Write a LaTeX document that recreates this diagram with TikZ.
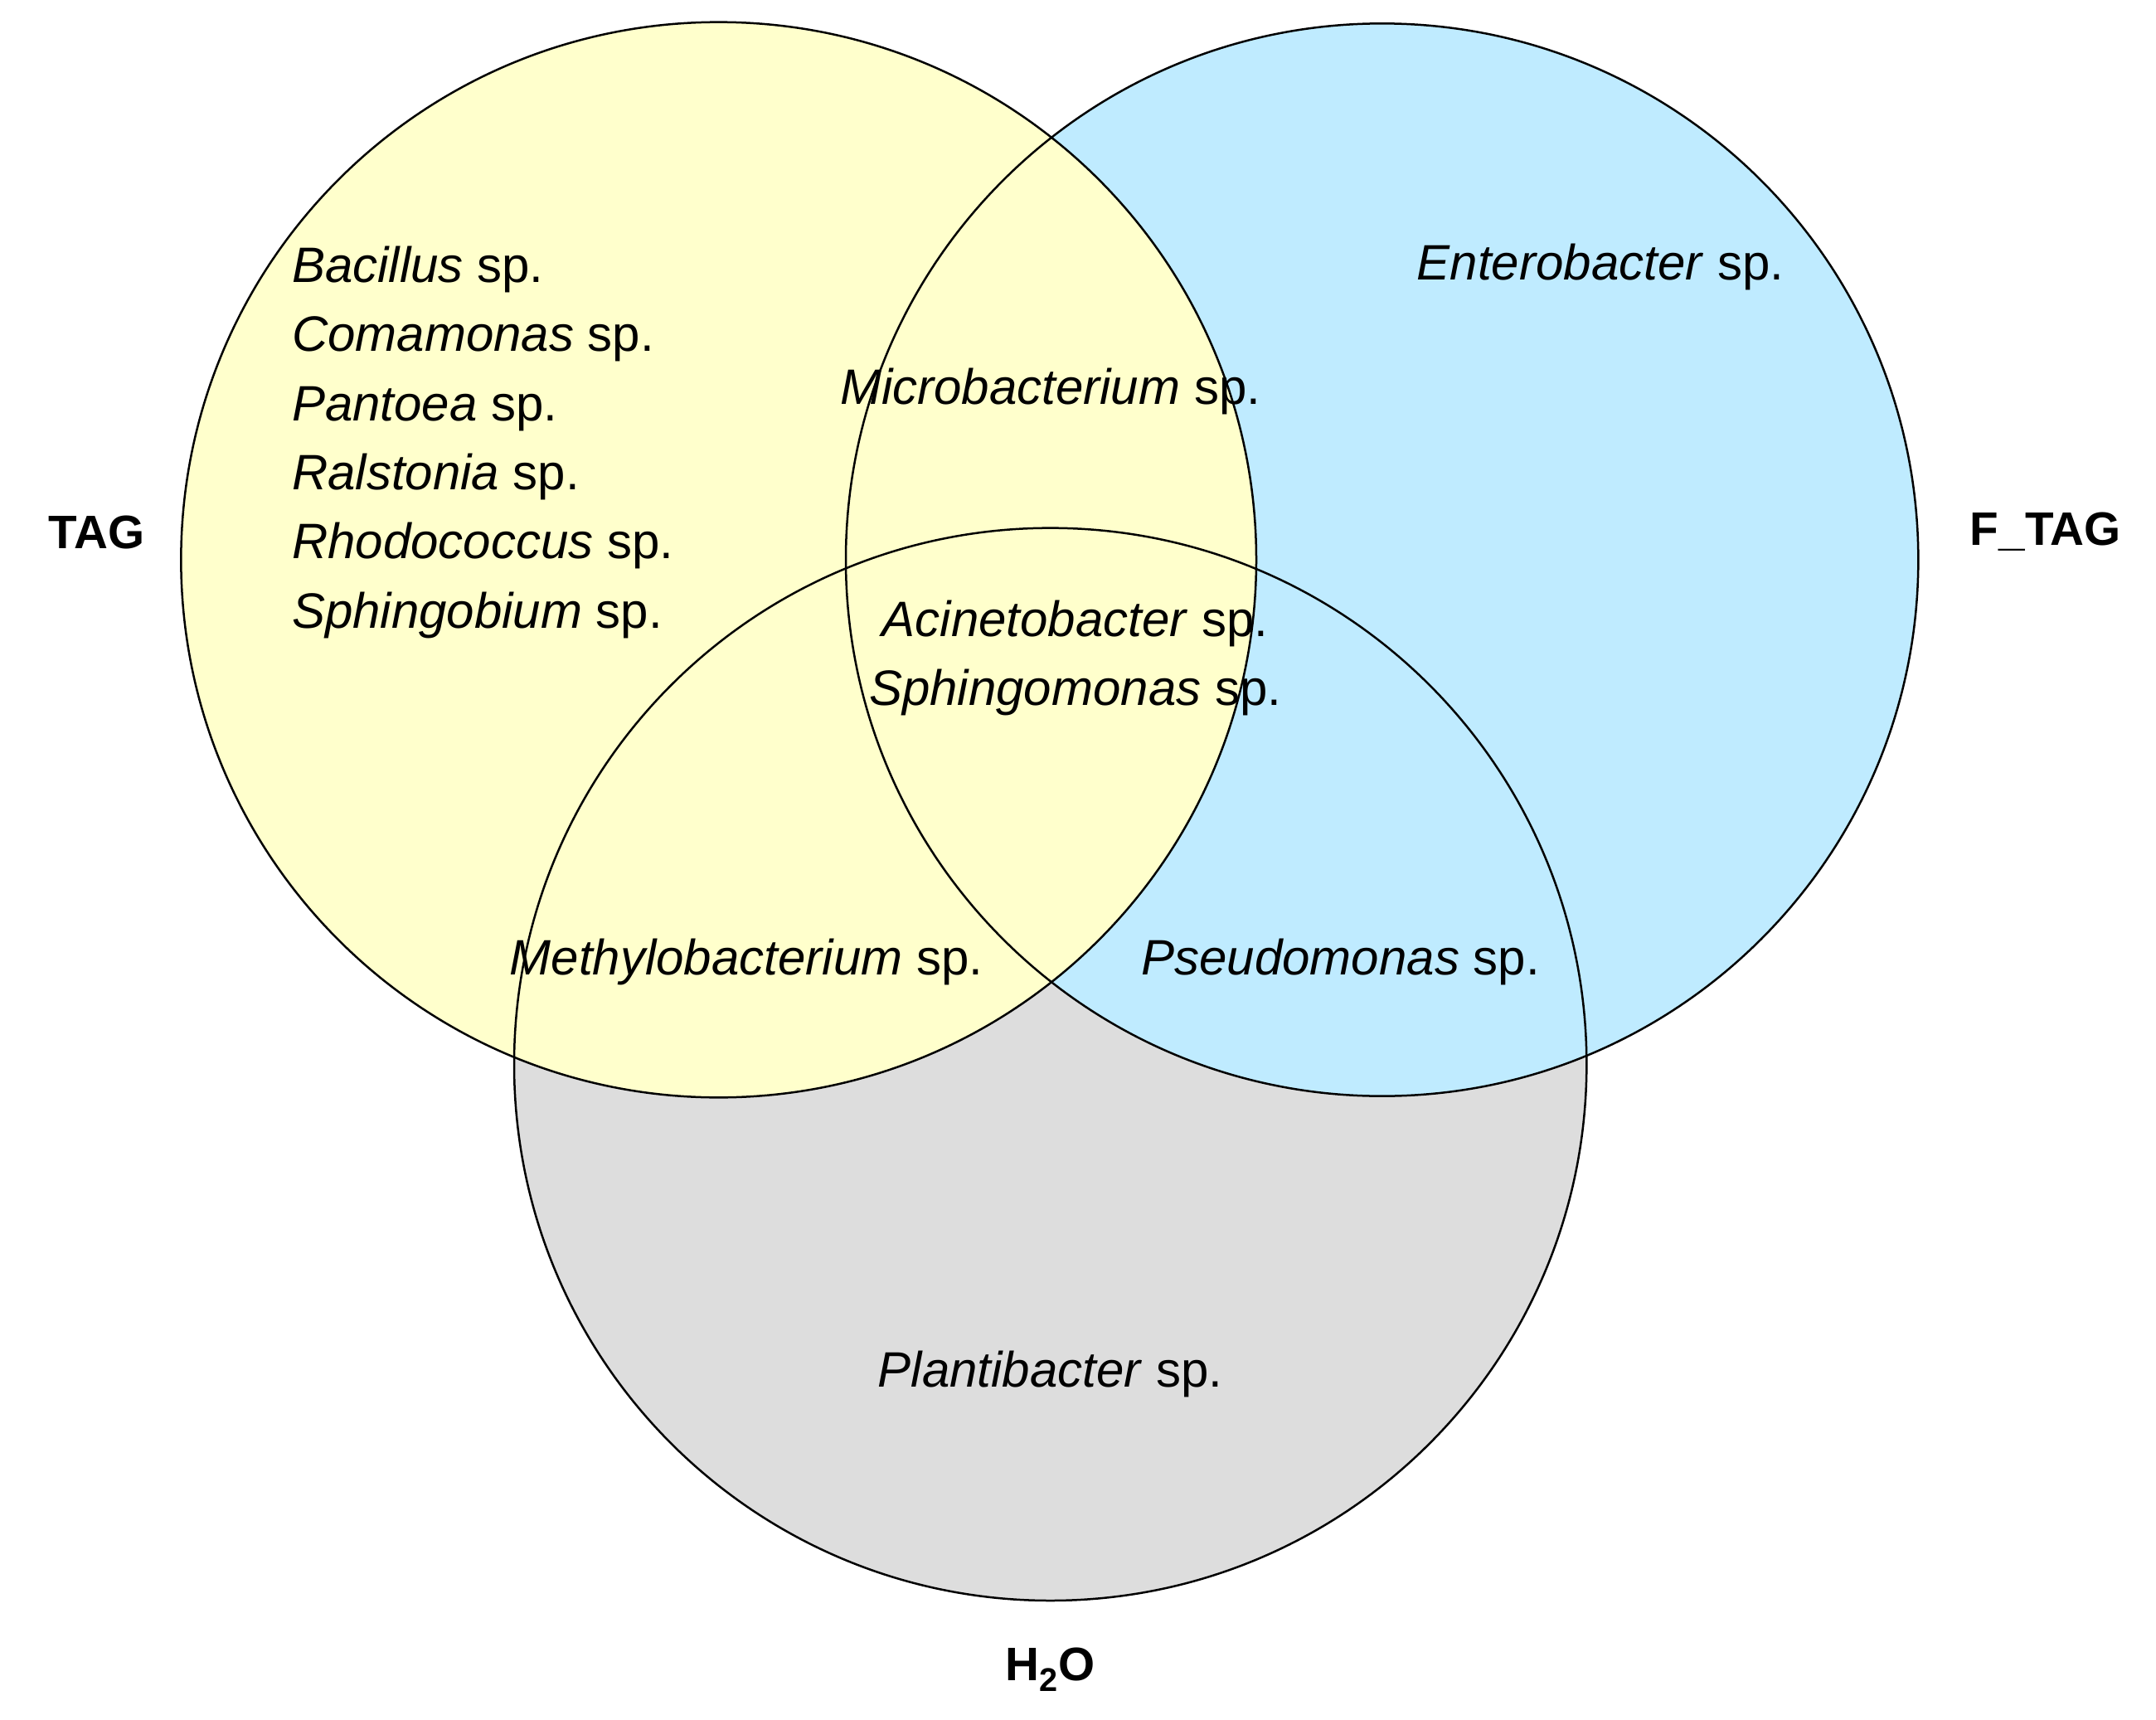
\documentclass[tikz,border=0pt]{standalone}
\usepackage{fontspec}
\setmainfont{Liberation Sans}
\begin{document}
\begin{tikzpicture}[x=1pt,y=-1pt,
  lab/.style={font=\fontsize{36}{50}\selectfont,inner sep=0pt},
  title/.style={font=\fontsize{34}{40}\selectfont\bfseries,inner sep=0pt},
  ring/.style={draw=black,line width=1.5pt}]
\useasboundingbox (0,0) rectangle (1560,1244);
\fill[fill=white] (0,0) rectangle (1560,1244);
\fill[fill={rgb,255:red,221;green,221;blue,221}] (760,770) circle (388);
\fill[fill={rgb,255:red,191;green,235;blue,255}] (1000,405) circle (388);
\fill[fill={rgb,255:red,255;green,255;blue,204}] (520,405) circle (389);
\draw[ring] (760,770) circle (388);
\draw[ring] (1000,405) circle (388);
\draw[ring] (520,405) circle (389);
\node[lab,anchor=north west,align=left] (tag) at (211,178) {\textit{Bacillus} sp.\\\textit{Comamonas} sp.\\\textit{Pantoea} sp.\\\textit{Ralstonia} sp.\\\textit{Rhodococcus} sp.\\\textit{Sphingobium} sp.};
\node[lab] (ent) at (1158,193) {\textit{Enterobacter} sp.};
\node[lab] (mic) at (760,283) {\textit{Microbacterium} sp.};
\node[lab,align=center] (aci) at (778,476) {\textit{Acinetobacter} sp.\\\textit{Sphingomonas} sp.};
\node[lab] (met) at (540,696) {\textit{Methylobacterium} sp.};
\node[lab] (pse) at (970,696) {\textit{Pseudomonas} sp.};
\node[lab] (pla) at (760,994) {\textit{Plantibacter} sp.};
\node[title] (t1) at (70,385) {TAG};
\node[title] (t2) at (1480,385) {F\_TAG};
\node[title] (t3) at (760,1208) {H$_\mathbf{2}$O};
\end{tikzpicture}
\end{document}
